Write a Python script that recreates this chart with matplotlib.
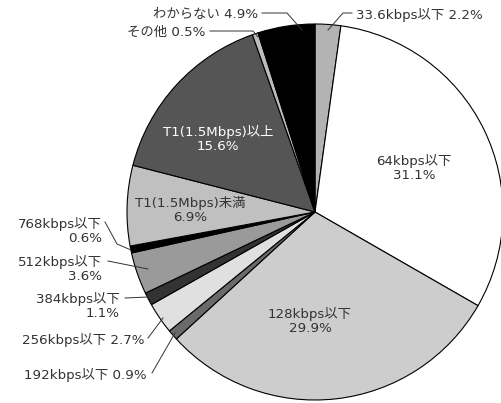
import matplotlib.pyplot as plt

plt.rcParams['font.family'] = ['DejaVu Sans', 'Noto Sans CJK JP']

categories = ["33.6kbps以下", "64kbps以下", "128kbps以下", "192kbps以下", "256kbps以下",
              "384kbps以下", "512kbps以下", "768kbps以下", "T1(1.5Mbps)未満",
              "T1(1.5Mbps)以上", "その他", "わからない"]
shares = [2.2, 31.1, 29.9, 0.9, 2.7, 1.1, 3.6, 0.6, 6.9, 15.6, 0.5, 4.9]
colors = ["#b3b3b3", "#ffffff", "#cdcdcd", "#6a6a6a", "#e0e0e0", "#333333",
          "#9a9a9a", "#000000", "#c0c0c0", "#555555", "#bdbdbd", "#000000"]

# pixel geometry of the reference
W, H = 502, 403
CX, CY, R = 315, 212, 188


def d(px, py):
    return (px - CX) / R, (CY - py) / R


fig = plt.figure(figsize=(W / 100, H / 100), dpi=100)
ax = fig.add_axes([0, 0, 1, 1])
ax.pie(shares, colors=colors, startangle=90, counterclock=False, radius=1.0,
       wedgeprops=dict(edgecolor="black", linewidth=0.8))
ax.set_xlim(-CX / R, (W - CX) / R)
ax.set_ylim(-(H - CY) / R, CY / R)
ax.set_aspect("equal")
ax.axis("off")

fs = 9.6
tc = "#333333"

# labels inside slices
inside = {
    1: ((414, 168), tc),
    2: ((310, 321), tc),
    9: ((218, 139), "white"),
    8: ((190, 210), tc),
}
for i, ((px, py), c) in inside.items():
    ax.text(*d(px, py), f"{categories[i]}\n{shares[i]}%", ha="center", va="center",
            fontsize=fs, color=c, linespacing=1.15)

# outside labels with leader lines: text pos, ha, line points
outside = [
    (0, (356, 15), "left", False, [(352, 13), (343, 13), (328, 30)]),
    (11, (258, 15), "right", False, [(262, 13), (287, 13), (302, 30)]),
    (10, (205, 32), "right", False, [(210, 31), (253, 31), (258, 37)]),
    (7, (102, 231), "right", True, [(105, 222), (117, 244), (131, 250)]),
    (6, (102, 269), "right", True, [(108, 261), (148, 269)]),
    (5, (120, 306), "right", True, [(125, 298), (148, 297)]),
    (4, (145, 340), "right", False, [(148, 338), (163, 318)]),
    (3, (147, 375), "right", False, [(152, 373), (175, 333)]),
]
for i, (px, py), ha, two, pts in outside:
    if two:
        s = f"{categories[i]}\n{shares[i]}%"
    else:
        s = f"{categories[i]} {shares[i]}%"
    ax.text(*d(px, py), s, ha=ha, va="center", fontsize=fs, color=tc,
            linespacing=1.15, multialignment="right" if ha == "right" else "left")
    xs, ys = zip(*[d(x, y) for x, y in pts])
    ax.plot(xs, ys, color="#333333", linewidth=0.7)

fig.savefig("out.png", dpi=100)
